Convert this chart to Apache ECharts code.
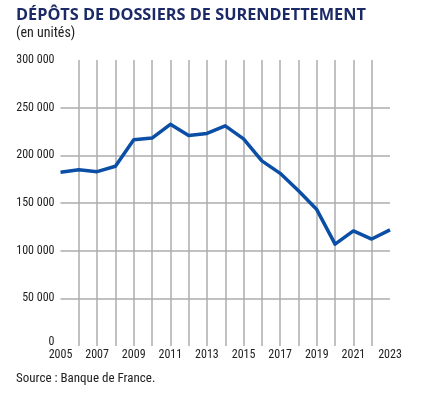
<!DOCTYPE html>
<html>
<head>
<meta charset="utf-8">
<script src="https://cdn.jsdelivr.net/npm/echarts@6/dist/echarts.min.js"></script>
<style>
html,body{margin:0;padding:0;background:#fff;}
#c{width:421px;height:400px;}
</style>
</head>
<body>
<div id="c"></div>
<script>
var years = ['2005','2006','2007','2008','2009','2010','2011','2012','2013','2014','2015','2016','2017','2018','2019','2020','2021','2022','2023'];
var depots = [182300,184900,182900,188500,216400,218100,232500,220800,223000,230900,217300,194200,181100,162900,143100,106900,120700,112200,121800];
var yTicks = [0,50000,100000,150000,200000,250000,300000];

var narrow = '"Liberation Sans Narrow","Roboto Condensed","Liberation Sans",sans-serif';
function fmt(v){ if(v===0) return '{z|0}'; var s=String(v); return s.slice(0,s.length-3)+' '+s.slice(-3); }

var chart = echarts.init(document.getElementById('c'), null, {renderer:'canvas'});
var xColors = years.map(function(y,i){ return (i===0||i===years.length-1)?'rgba(0,0,0,0)':'#adadad'; });
var yColors = yTicks.map(function(v,i){ return (i===0||i===yTicks.length-1)?'rgba(0,0,0,0)':'#adadad'; });

chart.setOption({
  animation:false,
  backgroundColor:'#fff',
  title:[
    {text:'DÉPÔTS DE DOSSIERS DE SURENDETTEMENT', left:11, top:2,
     textStyle:{fontFamily:'"Open Sans",sans-serif', fontWeight:'bold', fontSize:16.3, color:'#1b2a66'}},
    {text:'(en unités)', left:11, top:21,
     textStyle:{fontFamily:narrow, fontWeight:'normal', fontSize:14, color:'#222'}},
    {text:'Source : Banque de France.', left:11, top:367,
     textStyle:{fontFamily:narrow, fontWeight:'normal', fontSize:13, color:'#222'}}
  ],
  grid:{left:60.5, right:31, top:60, bottom:54, containLabel:false},
  xAxis:{
    type:'category', data:years, boundaryGap:false,
    axisLine:{show:false}, axisTick:{show:false},
    axisLabel:{interval:1, fontFamily:narrow, fontSize:12, color:'#222', margin:3},
    splitLine:{show:true, interval:0, lineStyle:{color:xColors, width:1.5}}
  },
  yAxis:{
    type:'value', min:0, max:300000, interval:50000,
    axisLine:{show:false}, axisTick:{show:false},
    axisLabel:{fontFamily:narrow, fontSize:12, color:'#222', margin:6, formatter:fmt,
      rich:{z:{fontFamily:narrow, fontSize:12, color:'#222', padding:[0,0,8,0]}}},
    splitLine:{show:true, lineStyle:{color:yColors, width:1.5}}
  },
  series:[{
    type:'line', data:depots, symbol:'none',
    lineStyle:{color:'#0b4ea6', width:3.5, join:'round'}
  }]
});
</script>
</body>
</html>
